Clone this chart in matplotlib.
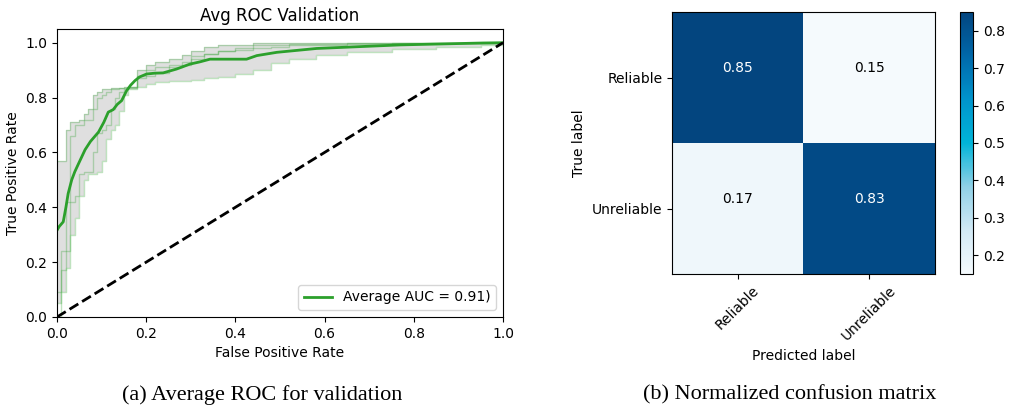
import numpy as np
import matplotlib
matplotlib.use("Agg")
import matplotlib.pyplot as plt
from matplotlib.colors import LinearSegmentedColormap

# ROC data
mean_fpr = [0.0, 0.005, 0.014, 0.02, 0.025, 0.033, 0.04, 0.05, 0.063, 0.075, 0.093, 0.105,
            0.115, 0.126, 0.135, 0.145, 0.156, 0.165, 0.175, 0.185, 0.201, 0.22, 0.238,
            0.268, 0.298, 0.32, 0.343, 0.425, 0.448, 0.493, 0.582, 0.769, 0.955, 1.0]
mean_tpr = [0.316, 0.33, 0.347, 0.40, 0.45, 0.50, 0.53, 0.565, 0.61, 0.64, 0.674, 0.71,
            0.747, 0.756, 0.775, 0.789, 0.825, 0.845, 0.862, 0.875, 0.886, 0.889,
            0.89, 0.904, 0.922, 0.93, 0.94, 0.94, 0.953, 0.965, 0.979, 0.992, 0.999, 1.0]

band_fpr = [0.0, 0.01, 0.02, 0.03, 0.04, 0.05, 0.06, 0.07, 0.08, 0.09, 0.10, 0.11, 0.12,
            0.13, 0.14, 0.15, 0.16, 0.18, 0.20, 0.22, 0.25, 0.28, 0.30, 0.33, 0.36, 0.40,
            0.44, 0.48, 0.52, 0.58, 0.65, 0.75, 0.85, 0.95, 1.0]
upper_tpr = [0.57, 0.57, 0.68, 0.71, 0.71, 0.72, 0.74, 0.76, 0.81, 0.82, 0.83, 0.83, 0.835,
             0.835, 0.835, 0.838, 0.84, 0.90, 0.92, 0.93, 0.94, 0.955, 0.97, 0.985, 0.99, 0.99,
             1.0, 1.0, 1.0, 1.0, 1.0, 1.0, 1.0, 1.0, 1.0]
lower_tpr = [0.05, 0.09, 0.18, 0.30, 0.36, 0.44, 0.50, 0.52, 0.52, 0.53, 0.57, 0.65, 0.68,
             0.70, 0.75, 0.81, 0.83, 0.84, 0.85, 0.855, 0.86, 0.862, 0.865, 0.87, 0.875, 0.885,
             0.90, 0.925, 0.94, 0.955, 0.965, 0.977, 0.985, 0.99, 1.0]
fold_a = [0.0, 0.17, 0.24, 0.42, 0.44, 0.52, 0.53, 0.53, 0.60, 0.67, 0.68, 0.70, 0.76,
          0.80, 0.82, 0.83, 0.835, 0.88, 0.90, 0.91, 0.92, 0.93, 0.95, 0.96, 0.97, 0.98,
          0.99, 0.99, 0.995, 0.995, 1.0, 1.0, 1.0, 1.0, 1.0]
fold_b = [0.09, 0.24, 0.42, 0.66, 0.70, 0.70, 0.72, 0.72, 0.76, 0.80, 0.81, 0.82, 0.83,
          0.83, 0.835, 0.835, 0.84, 0.87, 0.88, 0.89, 0.91, 0.92, 0.94, 0.96, 0.97, 0.975,
          0.98, 0.985, 0.99, 0.99, 0.995, 1.0, 1.0, 1.0, 1.0]
auc_label = "Average AUC = 0.91)"

# confusion matrix
classes = ["Reliable", "Unreliable"]
cm = np.array([[0.85, 0.15],
               [0.17, 0.83]])

fig = plt.figure(figsize=(10.09, 4.09), dpi=100)

# ---- left: ROC ----
ax1 = fig.add_axes([57/1009, 1-317/409, 446/1009, 288/409])
ax1.fill_between(band_fpr, lower_tpr, upper_tpr, step="post", color="grey", alpha=0.25, lw=0)
for f in [upper_tpr, lower_tpr, fold_a, fold_b]:
    ax1.plot(band_fpr, f, drawstyle="steps-post", color="#2ca02c", alpha=0.3, lw=1)
ax1.plot(mean_fpr, mean_tpr, color="#2ca02c", lw=2, label=auc_label)
ax1.plot([0, 1], [0, 1], "k--", lw=2)
ax1.set_xlim(0, 1)
ax1.set_ylim(0, 1.05)
ax1.set_xlabel("False Positive Rate")
ax1.set_ylabel("True Positive Rate")
ax1.set_title("Avg ROC Validation")
ax1.legend(loc="lower right")

# ---- right: confusion matrix ----
cmap = LinearSegmentedColormap.from_list(
    "cm", ["#f5fafd", "#d2e9f5", "#8fd0e6", "#00b4d8", "#0094cc", "#0068aa", "#03457f"])
ax2 = fig.add_axes([672/1009, 1-274/409, 263/1009, 262/409])
im = ax2.imshow(cm, interpolation="nearest", cmap=cmap, aspect="auto")
cax = fig.add_axes([960/1009, 1-274/409, 13/1009, 262/409])
fig.colorbar(im, cax=cax)
ax2.set_xticks(range(len(classes)))
ax2.set_xticklabels(classes, rotation=45)
ax2.set_yticks(range(len(classes)))
ax2.set_yticklabels(classes)
thresh = cm.max() / 2.
for i in range(cm.shape[0]):
    for j in range(cm.shape[1]):
        ax2.text(j, i - 0.07, format(cm[i, j], ".2f"), ha="center", va="center",
                 color="white" if cm[i, j] > thresh else "black")
ax2.set_ylabel("True label")
ax2.set_xlabel("Predicted label")

# captions
fig.text(262/1009, 1-395/409, "(a) Average ROC for validation", ha="center", va="center",
         family="Liberation Serif", fontsize=16)
fig.text(790/1009, 1-395/409, "(b) Normalized confusion matrix", ha="center", va="center",
         family="Liberation Serif", fontsize=16)

fig.savefig("out.png", dpi=100)
